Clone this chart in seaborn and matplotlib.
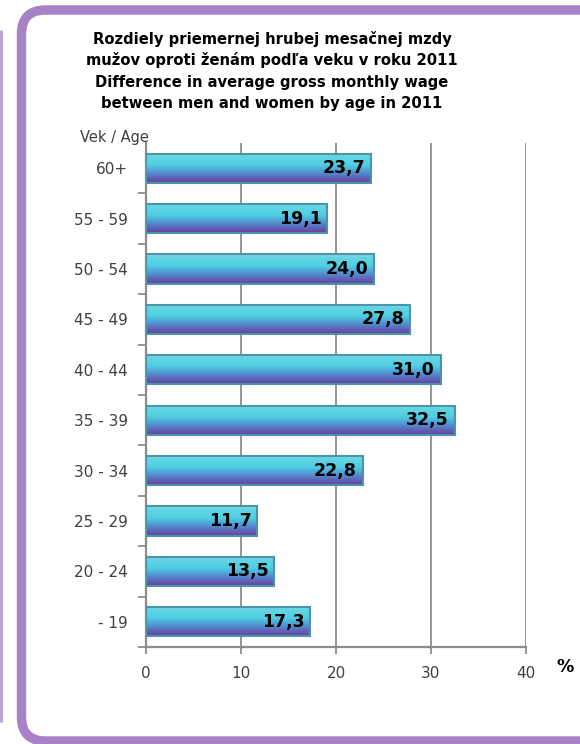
import numpy as np
import pandas as pd
import matplotlib
matplotlib.use("Agg")
import matplotlib.pyplot as plt
import seaborn as sns
from matplotlib.patches import FancyBboxPatch
from matplotlib.colors import LinearSegmentedColormap

# ---- data ----
age_groups = ["60+", "55 - 59", "50 - 54", "45 - 49", "40 - 44",
              "35 - 39", "30 - 34", "25 - 29", "20 - 24", "- 19"]
wage_gap = [23.7, 19.1, 24.0, 27.8, 31.0, 32.5, 22.8, 11.7, 13.5, 17.3]
x_ticks = [0, 10, 20, 30, 40]
title_lines = [
    "Rozdiely priemernej hrubej mesačnej mzdy",
    "mužov oproti ženám podľa veku v roku 2011",
    "Difference in average gross monthly wage",
    "between men and women by age in 2011",
]

df = pd.DataFrame({"age": age_groups, "gap": wage_gap})

sns.set_theme(style="white")
plt.rcParams["font.family"] = ["DejaVu Sans"]

W, H = 580, 744
fig = plt.figure(figsize=(W / 100, H / 100), dpi=100)
fig.patch.set_facecolor("white")

# background / frame axes in pixel coords
bg = fig.add_axes([0, 0, 1, 1], zorder=0)
bg.set_xlim(0, W)
bg.set_ylim(H, 0)
bg.axis("off")
purple = "#A882C6"
frame = FancyBboxPatch((21.5, 10), 620, 731, boxstyle="round,pad=0,rounding_size=24",
                       facecolor="white", edgecolor=purple, linewidth=6.8)
bg.add_patch(frame)
bg.plot([1.2, 1.2], [30, 722], color="#BFA3D8", linewidth=2.2, solid_capstyle="butt")

# main axes
left, right = 146 / W, 526 / W
top, bottom = 143 / H, 647 / H
ax = fig.add_axes([left, 1 - bottom, right - left, bottom - top], zorder=2)
ax.set_facecolor("none")

sns.barplot(data=df, x="gap", y="age", order=age_groups, orient="h",
            width=0.58, color="#4fd0e0", edgecolor="#4a96a8", linewidth=1.5,
            ax=ax, zorder=3)

grad_cmap = LinearSegmentedColormap.from_list(
    "bargrad",
    [(0.0, "#8cd6e2"), (0.12, "#62d5e4"), (0.38, "#4fd0e2"),
     (0.6, "#509ed6"), (0.82, "#5d66b8"), (1.0, "#6a40a2")])
grad = grad_cmap(np.linspace(0, 1, 64))[:, None, :3]

for p in list(ax.patches):
    x0, y0 = p.get_x(), p.get_y()
    w, h = p.get_width(), p.get_height()
    im = ax.imshow(grad, extent=(x0, x0 + w, y0 + h, y0), origin="upper",
                   aspect="auto", zorder=3.5, interpolation="bilinear")
    im.set_clip_path(p)
    p.set_facecolor("none")
    p.set_zorder(4)

ax.set_xlim(0, 40)
ax.set_ylim(len(age_groups) - 0.5, -0.5)

# value labels
for i, v in enumerate(wage_gap):
    ax.text(v - 0.6, i, f"{v:.1f}".replace(".", ","), ha="right", va="center",
            fontsize=12.5, fontweight="bold", color="black", zorder=6)

# grid & spines
ax.set_xticks(x_ticks)
ax.set_xticklabels([str(t) for t in x_ticks])
ax.xaxis.grid(True, color="#8c8c8c", linewidth=1.3)
ax.yaxis.grid(False)
ax.set_axisbelow(True)
for s in ["top", "right"]:
    ax.spines[s].set_visible(False)
for s in ["left", "bottom"]:
    ax.spines[s].set_color("#8c8c8c")
    ax.spines[s].set_linewidth(1.6)

ax.tick_params(axis="x", which="major", direction="out", length=5, width=1.3,
               color="#8c8c8c", pad=9, labelsize=11, labelcolor="#404040", bottom=True)
ax.tick_params(axis="y", which="major", length=0, pad=13, labelsize=11,
               labelcolor="#404040")
ax.set_yticks(np.arange(len(age_groups)) + 0.5, minor=True)
ax.tick_params(axis="y", which="minor", direction="out", length=6, width=1.3,
               color="#8c8c8c", left=True)
ax.set_xlabel("")
ax.set_ylabel("")

# title
baselines = [44, 65.5, 87, 108]
for line, yb in zip(title_lines, baselines):
    fig.text(272 / W, 1 - yb / H, line, ha="center", va="baseline",
             fontsize=10.6, fontweight="bold", color="black")

fig.text(80 / W, 1 - 142 / H, "Vek / Age", ha="left", va="baseline",
         fontsize=10.5, color="#404040")
fig.text(565 / W, 1 - 667 / H, "%", ha="center", va="center",
         fontsize=12.5, fontweight="bold", color="black")

fig.savefig("out.png", dpi=100)
